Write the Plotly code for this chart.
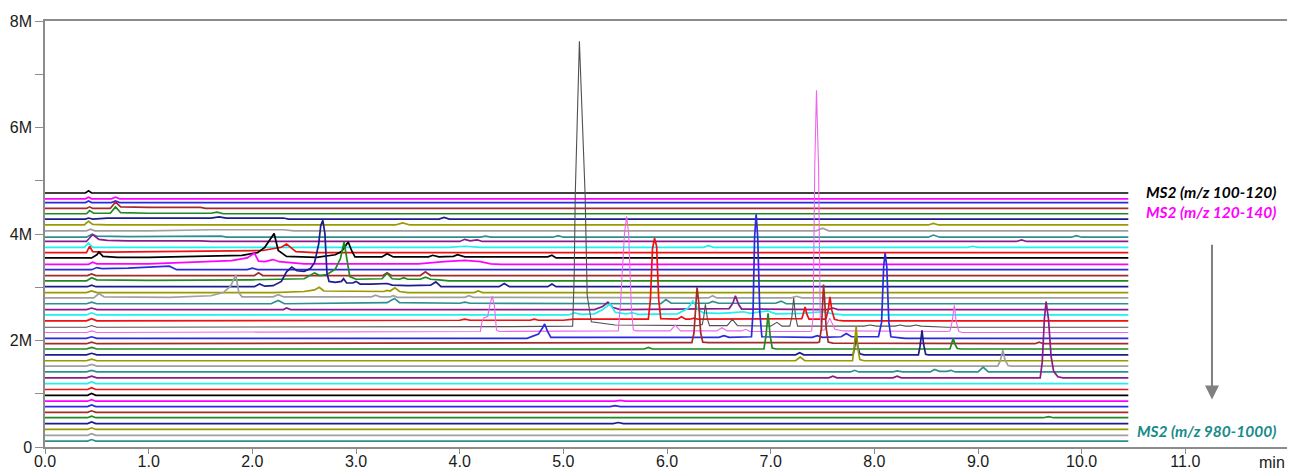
import plotly.graph_objects as go

# ---- data -----------------------------------------------------------------
# m/z windows of the 45 stacked MS2 chromatograms (top -> bottom)
mz_windows = ["%d-%d" % (100 + 20 * k, 120 + 20 * k) for k in range(45)]

# baseline level (in millions of counts) of each stacked trace
baselines = [4.77, 4.66, 4.59, 4.48, 4.38, 4.28, 4.17, 4.06, 3.94, 3.86,
             3.75, 3.65, 3.55, 3.43, 3.33, 3.22, 3.12, 3.01, 2.90, 2.80,
             2.69, 2.58, 2.48, 2.37, 2.25, 2.15, 2.04, 1.94, 1.84, 1.73,
             1.62, 1.52, 1.41, 1.30, 1.19, 1.08, 0.97, 0.86, 0.76, 0.65,
             0.55, 0.44, 0.33, 0.22, 0.11]

run_start = 0.0
run_end = 10.45

# (time [min], intensity above baseline [M]) vertices of each trace
p00 = [(0.39, 0), (0.42, 0.04), (0.45, 0)]
p01 = [(0.39, 0), (0.42, 0.03), (0.45, 0), (0.64, 0), (0.68, 0.03), (0.72, 0)]
p02 = [(0.39, 0), (0.42, 0.03), (0.45, 0), (0.64, 0), (0.68, 0.03), (0.72, 0)]
p03 = [(0.40, 0), (0.43, 0.03), (0.46, 0), (0.63, 0), (0.68, 0.12), (0.73, 0.03),
       (1.0, 0.02), (1.5, 0.02), (1.55, 0)]
p04 = [(0.40, 0), (0.43, 0.06), (0.47, 0.01), (0.63, 0.01), (0.68, 0.13), (0.73, 0.02),
       (1.0, 0.01), (1.6, 0.01), (1.66, 0.03), (1.72, 0)]
p05 = [(0.39, 0), (0.42, 0.02), (0.46, 0), (0.6, 0.02), (1.6, 0.02), (1.68, 0.04),
       (1.75, 0.02), (2.3, 0.02), (2.35, 0), (3.8, 0), (3.85, 0.03), (3.9, 0)]
p06 = [(0.38, 0), (0.42, 0.07), (0.46, 0.01), (0.6, 0), (3.38, 0), (3.45, 0.04),
       (3.52, 0), (8.52, 0), (8.57, 0.03), (8.62, 0)]
p07 = [(0.40, 0), (0.44, 0.03), (0.48, 0), (1.0, 0), (1.6, 0.02), (2.3, 0.02),
       (2.4, 0), (7.44, 0), (7.5, 0.05), (7.56, 0)]
p08 = [(0.40, 0), (0.45, 0.05), (0.5, 0.02), (0.8, 0.01), (1.7, 0.02), (1.75, 0),
       (4.2, 0), (4.25, 0.02), (4.3, 0), (4.9, 0), (4.95, 0.03), (5.0, 0),
       (8.52, 0), (8.57, 0.04), (8.63, 0), (9.9, 0), (9.95, 0.03), (10.0, 0)]
p09 = [(0.40, 0), (0.46, 0.13), (0.52, 0.04), (0.6, 0.02), (0.8, 0.01), (1.5, 0.01),
       (1.6, 0), (4.0, 0), (4.05, 0.04), (4.1, 0.01), (4.17, 0.03), (4.22, 0),
       (9.37, 0), (9.42, 0.03), (9.47, 0)]
p10 = [(0.38, 0), (0.42, 0.08), (0.46, 0), (3.9, 0), (4.05, 0.02), (4.2, 0),
       (6.35, 0), (6.4, 0.03), (6.45, 0), (8.9, 0), (8.95, 0.02), (9.0, 0)]
p11 = [(0.40, 0), (0.43, 0.12), (0.46, 0.02), (0.6, 0.01), (1.5, 0.02), (2.1, 0.04),
       (2.28, 0.1), (2.33, 0.16), (2.37, 0.1), (2.42, 0.02), (2.6, 0)]
p12 = [(0.45, 0), (0.5, 0.06), (0.52, 0.11), (0.56, 0.03), (0.7, 0.01), (1.0, 0.01),
       (1.5, 0.03), (1.9, 0.05), (2.05, 0.1), (2.12, 0.2), (2.21, 0.46), (2.25, 0.14),
       (2.33, 0.03), (2.62, 0.01), (2.8, 0.06), (2.86, 0.12), (2.925, 0.3), (2.955, 0.15),
       (2.99, 0.02), (3.25, 0.02), (3.3, 0.08), (3.36, 0.02), (3.7, 0.02), (3.74, 0.05),
       (3.8, 0.02), (3.94, 0.03), (3.98, 0.06), (4.05, 0.02), (4.85, 0.02), (4.89, 0.05),
       (4.93, 0)]
p13 = [(0.42, 0), (0.46, 0.04), (0.5, 0.01), (1.0, 0.01), (1.5, 0.04), (1.8, 0.07),
       (1.95, 0.12), (2.02, 0.21), (2.06, 0.06), (2.12, 0.05), (2.2, 0.09), (2.26, 0.05),
       (2.5, 0.01), (3.6, 0.01), (3.85, 0.05), (4.05, 0.075), (4.2, 0.05), (4.3, 0.01),
       (4.4, 0)]
p14 = [(0.45, 0), (0.5, 0.04), (0.55, 0.02), (0.8, 0.03), (1.1, 0.06), (1.2, 0.065),
       (1.27, 0), (1.95, 0), (2.0, 0.03), (2.05, 0)]
p15 = [(0.41, 0), (0.45, 0.03), (0.49, 0), (2.02, 0), (2.06, 0.05), (2.1, 0),
       (3.26, 0), (3.3, 0.05), (3.34, 0), (3.62, 0), (3.67, 0.07), (3.72, 0)]
p16 = [(0.4, 0), (0.45, 0.06), (0.5, 0.02), (1.0, 0.01), (2.0, 0.02), (2.5, 0.04),
       (2.6, 0.15), (2.65, 0.1), (2.72, 0.12), (2.8, 0.22), (2.85, 0.42), (2.885, 0.73),
       (2.91, 0.4), (2.94, 0.08), (3.0, 0.03), (3.25, 0.04), (3.3, 0.14), (3.35, 0.04),
       (3.42, 0.03), (3.46, 0.06), (3.5, 0.03), (3.62, 0.03), (3.67, 0.07), (3.72, 0.03),
       (3.8, 0.02), (3.9, 0)]
p17 = [(0.41, 0), (0.45, 0.03), (0.49, 0), (2.02, 0), (2.07, 0.05), (2.12, 0.01),
       (2.2, 0.02), (2.28, 0.1), (2.33, 0.28), (2.38, 0.37), (2.43, 0.3), (2.5, 0.29),
       (2.56, 0.34), (2.6, 0.45), (2.64, 0.8), (2.66, 1.15), (2.68, 1.245), (2.7, 1.0),
       (2.72, 0.25), (2.74, 0.1), (2.8, 0.08), (2.86, 0.1), (2.88, 0.15), (2.91, 0.07),
       (2.97, 0.07), (3.0, 0.1), (3.04, 0.05), (3.15, 0.05), (3.3, 0.06), (3.35, 0.03),
       (3.5, 0.02), (3.72, 0.03), (3.77, 0.09), (3.82, 0), (4.38, 0), (4.43, 0.06),
       (4.48, 0), (4.85, 0), (4.89, 0.05), (4.93, 0)]
p18 = [(0.4, 0), (0.45, 0.03), (0.5, 0), (2.2, 0), (2.5, 0.02), (2.6, 0.05),
       (2.645, 0.1), (2.69, 0.03), (3.0, 0.02), (3.27, 0.02), (3.3, 0.04), (3.33, 0.03),
       (3.375, 0.09), (3.42, 0.02), (3.5, 0), (4.14, 0), (4.18, 0.03), (4.22, 0)]
p19 = [(0.47, 0), (0.52, 0.08), (0.57, 0.02), (1.2, 0.01), (1.6, 0.04), (1.72, 0.1),
       (1.79, 0.22), (1.84, 0.43), (1.87, 0.1), (1.9, 0.02), (2.2, 0.02), (2.25, 0.06),
       (2.3, 0.02), (3.15, 0.02), (3.19, 0.05), (3.23, 0.02), (3.33, 0.02), (3.36, 0.04),
       (3.4, 0.01), (4.05, 0.01), (4.09, 0.04), (4.13, 0.01), (6.4, 0), (6.44, 0.04),
       (6.48, 0), (7.2, 0), (7.25, 0.03), (7.3, 0)]
p20 = [(0.4, 0), (0.45, 0.03), (0.5, 0), (2.18, 0), (2.25, 0.06), (2.31, 0),
       (2.9, 0.01), (3.3, 0.02), (3.37, 0.1), (3.42, 0.02), (4.0, 0.01), (4.05, 0.03),
       (4.1, 0.01), (5.94, 0), (5.99, 0.08), (6.04, 0.01), (6.4, 0.01), (6.44, 0.045),
       (6.5, 0.01), (7.05, 0.01), (7.1, 0.05), (7.15, 0)]
p21 = [(0.4, 0), (0.45, 0.03), (0.5, 0), (2.3, 0), (2.33, 0.03), (2.37, 0),
       (5.3, 0), (5.38, 0.06), (5.43, 0.14), (5.48, 0.04), (5.55, 0), (6.6, 0.02),
       (6.635, 0.12), (6.66, 0.26), (6.69, 0.1), (6.72, 0.01), (7.55, 0), (7.6, 0.03),
       (7.65, 0)]
p22 = [(0.4, 0), (0.45, 0.04), (0.5, 0), (5.05, 0), (5.11, 0.04), (5.17, 0.01),
       (5.3, 0.02), (5.38, 0.1), (5.45, 0.21), (5.5, 0.05), (5.6, 0.02), (5.67, 0.04),
       (5.72, 0.01), (6.1, 0.02), (6.2, 0.12), (6.25, 0.26), (6.3, 0.1), (6.35, 0.04),
       (6.5, 0.03), (6.6, 0.04), (6.74, 0.06), (6.8, 0.03), (6.97, 0.075), (7.05, 0.02),
       (7.3, 0.03), (7.5, 0.06), (7.6, 0.02), (7.7, 0)]
p23 = [(0.4, 0), (0.45, 0.04), (0.5, 0), (4.0, 0.01), (4.05, 0.03), (4.1, 0.01),
       (4.68, 0.01), (4.72, 0.03), (4.76, 0.01), (5.0, 0.01), (5.1, 0.03), (5.82, 0.03),
       (5.84, 0.4), (5.86, 1.35), (5.88, 1.55), (5.9, 1.4), (5.92, 0.4), (5.94, 0.04),
       (6.1, 0.03), (6.14, 0.075), (6.18, 0.03), (6.22, 0.03), (6.26, 0.05), (6.3, 0.03),
       (7.28, 0.03), (7.3, 0.04), (7.315, 0.13), (7.332, 0.26), (7.35, 0.12), (7.37, 0.03),
       (7.52, 0.03), (7.535, 0.05), (7.555, 0.2), (7.572, 0.45), (7.59, 0.2), (7.615, 0.03),
       (7.65, 0.01), (7.7, 0)]
p24 = [(0.4, 0), (0.45, 0.03), (0.5, 0), (4.5, 0.01), (5.09, 0.02), (5.105, 1.0),
       (5.115, 2.5), (5.155, 5.37), (5.19, 3.63), (5.21, 2.5), (5.23, 0.6), (5.27, 0.1),
       (5.5, 0.04), (6.3, 0.03), (6.34, 0.05), (6.355, 0.2), (6.37, 0.43), (6.39, 0.15),
       (6.41, 0.03), (6.58, 0.03), (6.63, 0.145), (6.68, 0.03), (7.0, 0.02), (7.06, 0.09),
       (7.11, 0.02), (7.185, 0.02), (7.205, 0.2), (7.222, 0.55), (7.24, 0.2), (7.26, 0.02),
       (7.9, 0.02), (7.96, 0.04), (8.02, 0.02), (8.2, 0.02), (8.25, 0.04), (8.3, 0.02),
       (8.35, 0.02), (8.4, 0.04), (8.45, 0.02), (8.7, 0)]
p25 = [(0.4, 0), (0.45, 0.03), (0.5, 0), (4.2, 0.02), (4.215, 0.2), (4.235, 0.28),
       (4.27, 0.3), (4.295, 0.55), (4.315, 0.68), (4.335, 0.5), (4.355, 0.05), (4.38, 0.02),
       (5.5, 0.02), (5.53, 0.03), (5.55, 0.5), (5.59, 1.86), (5.61, 2.18), (5.63, 1.86),
       (5.655, 0.5), (5.675, 0.05), (5.7, 0.03), (6.03, 0.03), (6.08, 0.14), (6.13, 0.03),
       (6.48, 0.03), (6.53, 0.09), (6.58, 0.03), (6.72, 0.03), (6.76, 0.06), (6.8, 0.02),
       (7.38, 0.02), (7.395, 0.03), (7.41, 0.3), (7.425, 3.1), (7.442, 4.55), (7.462, 3.1),
       (7.478, 0.3), (7.495, 0.04), (7.52, 0.05), (7.57, 0.27), (7.62, 0.06), (7.7, 0.03),
       (8.7, 0.02), (8.73, 0.03), (8.75, 0.2), (8.772, 0.51), (8.79, 0.2), (8.815, 0.02),
       (8.85, 0)]
p26 = [(0.4, 0), (0.45, 0.03), (0.5, 0), (4.65, 0), (4.72, 0.05), (4.76, 0.08),
       (4.8, 0.2), (4.82, 0.27), (4.85, 0.12), (4.88, 0.02), (5.5, 0.02), (6.5, 0.02),
       (6.55, 0.05), (6.6, 0.02), (6.815, 0.03), (6.83, 0.5), (6.845, 1.9), (6.86, 2.33),
       (6.875, 1.9), (6.895, 0.5), (6.915, 0.03), (7.4, 0.02), (7.45, 0.05), (7.5, 0.02),
       (7.68, 0.03), (7.73, 0.09), (7.78, 0.03), (8.04, 0.03), (8.07, 0.3), (8.09, 1.35),
       (8.104, 1.6), (8.12, 1.35), (8.14, 0.3), (8.16, 0.03), (8.25, 0.01), (8.3, 0)]
p27 = [(0.4, 0), (0.45, 0.03), (0.5, 0), (6.1, 0.02), (6.24, 0.02), (6.26, 0.2),
       (6.28, 0.8), (6.29, 1.06), (6.305, 0.8), (6.325, 0.2), (6.345, 0.03), (6.4, 0.02),
       (7.45, 0.02), (7.47, 0.03), (7.49, 0.3), (7.5, 0.85), (7.51, 1.11), (7.52, 0.85),
       (7.535, 0.3), (7.555, 0.03), (7.6, 0.01), (9.55, 0), (9.59, 0.03), (9.63, 0)]
p28 = [(0.4, 0), (0.45, 0.03), (0.5, 0), (5.78, 0), (5.82, 0.03), (5.86, 0),
       (6.935, 0), (6.955, 0.25), (6.975, 0.67), (6.995, 0.25), (7.015, 0.02), (7.05, 0),
       (8.73, 0), (8.745, 0.1), (8.76, 0.2), (8.78, 0.08), (8.8, 0.01), (8.84, 0)]
p29 = [(0.4, 0), (0.45, 0.03), (0.5, 0), (7.24, 0), (7.28, 0.04), (7.32, 0),
       (7.795, 0), (7.81, 0.15), (7.825, 0.37), (7.84, 0.15), (7.86, 0.02), (7.9, 0),
       (8.425, 0), (8.44, 0.15), (8.46, 0.46), (8.475, 0.2), (8.495, 0.01), (8.52, 0)]
p30 = [(0.4, 0), (0.45, 0.03), (0.5, 0), (7.24, 0), (7.285, 0.07), (7.33, 0),
       (7.79, 0), (7.805, 0.25), (7.825, 0.64), (7.84, 0.25), (7.86, 0.02), (7.9, 0)]
p31 = [(0.4, 0), (0.45, 0.03), (0.5, 0), (9.19, 0), (9.215, 0.1), (9.24, 0.3),
       (9.26, 0.12), (9.29, 0.01), (9.32, 0)]
p32 = [(0.4, 0), (0.45, 0.03), (0.5, 0), (7.77, 0), (7.81, 0.03), (7.85, 0),
       (8.18, 0), (8.22, 0.02), (8.27, 0), (8.54, 0), (8.58, 0.045), (8.63, 0.01),
       (8.7, 0.01), (8.74, 0.03), (8.78, 0), (9.0, 0), (9.05, 0.09), (9.1, 0)]
p33 = [(0.4, 0), (0.45, 0.03), (0.5, 0), (7.56, 0), (7.6, 0.03), (7.64, 0),
       (8.18, 0), (8.22, 0.03), (8.26, 0), (9.6, 0), (9.62, 0.3), (9.64, 1.1),
       (9.657, 1.43), (9.68, 1.1), (9.705, 0.4), (9.73, 0.12), (9.77, 0.02), (9.82, 0)]
p34 = [(0.41, 0), (0.45, 0.035), (0.49, 0)]
p35 = [(0.41, 0), (0.45, 0.035), (0.49, 0)]
p36 = [(0.41, 0), (0.45, 0.035), (0.49, 0)]
p37 = [(0.41, 0), (0.45, 0.03), (0.49, 0), (5.5, 0), (5.55, 0.015), (5.6, 0)]
p38 = [(0.41, 0), (0.45, 0.03), (0.49, 0), (5.45, 0), (5.5, 0.015), (5.55, 0)]
p39 = [(0.41, 0), (0.45, 0.03), (0.49, 0)]
p40 = [(0.41, 0), (0.45, 0.03), (0.49, 0), (9.63, 0), (9.68, 0.02), (9.73, 0)]
p41 = [(0.41, 0), (0.45, 0.03), (0.49, 0), (5.48, 0), (5.53, 0.02), (5.58, 0)]
p42 = [(0.41, 0), (0.45, 0.03), (0.49, 0)]
p43 = [(0.41, 0), (0.45, 0.03), (0.49, 0)]
p44 = [(0.41, 0), (0.45, 0.03), (0.49, 0)]

profiles = [p00, p01, p02, p03, p04, p05, p06, p07, p08, p09, p10, p11, p12, p13,
            p14, p15, p16, p17, p18, p19, p20, p21, p22, p23, p24, p25, p26, p27,
            p28, p29, p30, p31, p32, p33, p34, p35, p36, p37, p38, p39, p40, p41,
            p42, p43, p44]

x_ticks = [0, 1, 2, 3, 4, 5, 6, 7, 8, 9, 10, 11, 12]
x_tick_text = ["0.0", "1.0", "2.0", "3.0", "4.0", "5.0", "6.0", "7.0", "8.0",
               "9.0", "10.0", "11.0", ""]
y_ticks = [0, 1e6, 2e6, 3e6, 4e6, 5e6, 6e6, 7e6, 8e6]
y_tick_text = ["0", "", "2M", "", "4M", "", "6M", "", "8M"]

# ---- styles ------------------------------------------------------------------
palette = ["#000000", "#ff00ff", "#2b2bdd", "#a52a2a", "#1f8a1f", "#1c1c8c",
           "#9a9a00", "#a0a0a0", "#2e8f8f", "#8b1a8b", "#1ff0f0", "#ee1111"]
thin_colors = {24: "#505050", 25: "#ee66ee"}

fig = go.Figure()
for i, prof in enumerate(profiles):
    xs = [run_start] + [p[0] for p in prof] + [run_end]
    ys = [baselines[i]] + [baselines[i] + p[1] for p in prof] + [baselines[i]]
    ys = [v * 1e6 for v in ys]
    if i in thin_colors:
        color, width = thin_colors[i], 1.1
    else:
        color, width = palette[i % 12], 1.7
    fig.add_trace(go.Scatter(x=xs, y=ys, mode="lines", name="MS2 (m/z %s)" % mz_windows[i],
                             line=dict(color=color, width=width), hoverinfo="skip"))

axis_gray = "#8c8c8c"
tick_font = dict(family="Arial, Liberation Sans, sans-serif", size=16, color="#1a1a1a")
fig.update_layout(
    width=1287, height=462, autosize=False,
    margin=dict(l=37, r=6, t=13, b=23),
    paper_bgcolor="white", plot_bgcolor="white",
    showlegend=False,
    xaxis=dict(range=[0, 12], tickvals=x_ticks, ticktext=x_tick_text,
               ticks="outside", ticklen=5, tickcolor=axis_gray, tickwidth=1.2,
               showline=True, linecolor=axis_gray, linewidth=1.5, mirror=True,
               showgrid=False, zeroline=False, tickfont=tick_font,
               automargin=False, ticklabelstandoff=-6),
    yaxis=dict(range=[0, 8e6], tickvals=y_ticks, ticktext=y_tick_text,
               ticks="outside", ticklen=8, tickcolor=axis_gray, tickwidth=1.2,
               showline=True, linecolor=axis_gray, linewidth=1.5, mirror=True,
               showgrid=False, zeroline=False, tickfont=tick_font,
               automargin=False),
)

label_font = dict(family="Lato, Open Sans, sans-serif", size=15.5, weight="bold", style="italic")
fig.add_annotation(x=11.894, y=4.79e6, xref="x", yref="y", xanchor="right", yanchor="middle",
                   text="MS2 (m/z 100-120)", showarrow=False,
                   font=dict(label_font, color="#000000"))
fig.add_annotation(x=11.894, y=4.41e6, xref="x", yref="y", xanchor="right", yanchor="middle",
                   text="MS2 (m/z 120-140)", showarrow=False,
                   font=dict(label_font, color="#ff00ff"))
fig.add_annotation(x=11.894, y=0.295e6, xref="x", yref="y", xanchor="right", yanchor="middle",
                   text="MS2 (m/z 980-1000)", showarrow=False,
                   font=dict(label_font, color="#168a8a"))

# downward arrow
fig.add_annotation(x=11.257, y=0.89e6, ax=11.257, ay=3.825e6, xref="x", yref="y",
                   axref="x", ayref="y", text="", showarrow=True, arrowhead=2,
                   arrowsize=1.4, arrowwidth=2, arrowcolor="#808080")

# axis unit label at the last tick
fig.add_annotation(x=12, y=0, xref="x", yref="y", xanchor="right", yanchor="top",
                   xshift=-2, yshift=-5, text="min", showarrow=False, font=tick_font)

fig.write_html("out.html")
